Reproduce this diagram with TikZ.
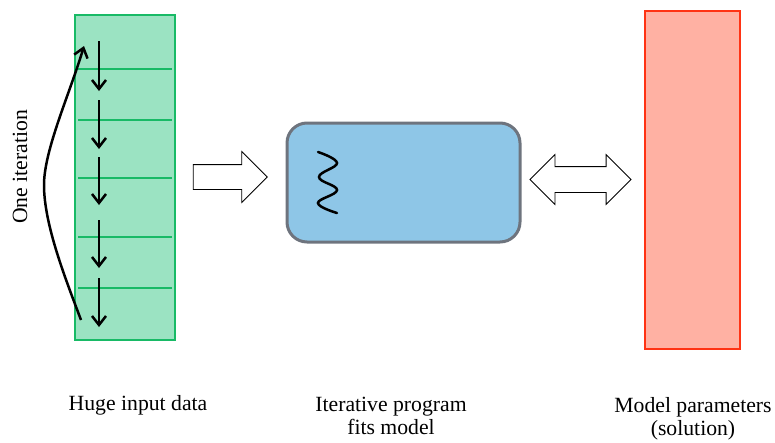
\documentclass[tikz,border=0pt]{standalone}
\usepackage{fontspec}
\setmainfont{Liberation Serif}
\usetikzlibrary{positioning}
\usetikzlibrary{shapes.arrows}
\usetikzlibrary{arrows.meta}

\definecolor{datafill}{RGB}{155,227,194}
\definecolor{dataline}{RGB}{24,186,102}
\definecolor{modelfill}{RGB}{142,198,231}
\definecolor{modelline}{RGB}{110,116,126}
\definecolor{paramfill}{RGB}{255,177,163}
\definecolor{paramline}{RGB}{255,51,20}

\begin{document}
\begin{tikzpicture}[x=1pt,y=-1pt,>={Straight Barb[length=9pt,width=14pt]},
  font=\fontsize{21.7}{23}\selectfont,
  data col/.style={rectangle,draw=dataline,fill=datafill,line width=2pt,
  minimum width=100pt,minimum height=325pt,inner sep=0pt},
  model box/.style={rectangle,rounded corners=20pt,draw=modelline,
  fill=modelfill,line width=3pt,minimum width=233pt,minimum height=119pt},
  param col/.style={rectangle,draw=paramline,fill=paramfill,line width=2pt,
  minimum width=95pt,minimum height=338pt,inner sep=0pt},
  fat arrow/.style={single arrow,draw,fill=white,line width=0.8pt,
  inner xsep=0pt,inner ysep=12pt,minimum height=74pt,
  single arrow head extend=13pt},
  fat double/.style={double arrow,draw,fill=white,line width=0.8pt,
  inner xsep=0pt,inner ysep=12.5pt,minimum height=101pt,
  double arrow head extend=12pt},
  cell line/.style={draw=dataline,line width=1.3pt},
  step arrow/.style={->,line width=2.5pt},
  caption/.style={align=center,inner sep=0pt}]
  \useasboundingbox (0,0) rectangle (775,442);

  \node[data col] (data) at (125,177.5) {};
  \node[model box] (model) at (403.5,182.5) {};
  \node[param col] (param) at (692.5,180) {};

  \node[fat arrow] (feed) at (224,177) {};
  \node[fat double] (update) at (580.5,179.5) {};

  % rows of the input data
  \foreach \y in {69,120,178,237,288}
    \draw[cell line] (78,\y) -- (172,\y);

  % one pass over the rows
  \foreach \a/\b in {41/91,100/149,157/205,220/268,278/327}
    \draw[step arrow] (99,\a) -- (99,\b);

  \coordinate (iterbot) at (81,320);
  \coordinate (itertop) at (84,46);
  \draw[step arrow] (iterbot) .. controls (66,280) and (44,225) .. (44,185)
    .. controls (44,150) and (70,93) .. (itertop);
  \node[rotate=90] (iterlabel) at (20,167) {One iteration};

  % the iterative program
  \draw[line width=2.5pt,line cap=round] plot[smooth,tension=0.7] coordinates
    {(318,152) (337,163) (319,177) (337,190) (318,203) (337,213)};

  \node[caption] (datalabel) at (138,405) {Huge input data};
  \node[caption] (modellabel) at (391,416) {Iterative program\\fits model};
  \node[caption] (paramlabel) at (693,419) {Model parameters\\(solution)};
\end{tikzpicture}
\end{document}
